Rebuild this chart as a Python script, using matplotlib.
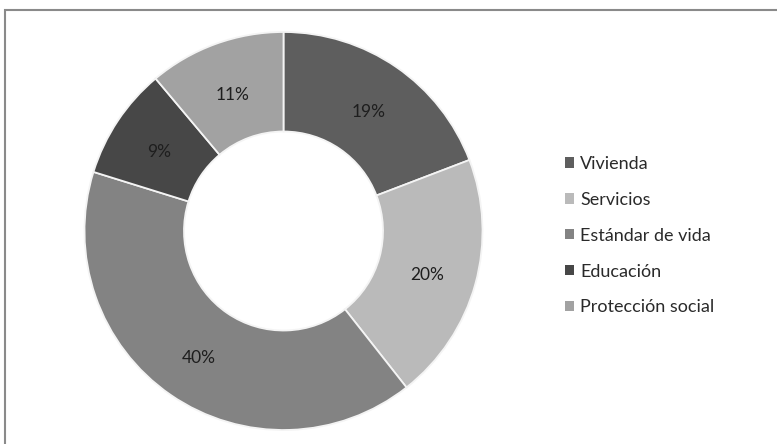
import matplotlib
matplotlib.use("Agg")
import matplotlib.pyplot as plt
from matplotlib.patches import Rectangle

plt.rcParams['font.family'] = ['Lato', 'DejaVu Sans']

categories = ["Vivienda", "Servicios", "Estándar de vida", "Educación", "Protección social"]
values = [19, 20, 40, 9, 11]
colors = ["#5e5e5e", "#bababa", "#838383", "#474747", "#a2a2a2"]

W, H = 777, 444
fig = plt.figure(figsize=(W / 100, H / 100), dpi=100)
fig.patch.set_facecolor("white")

# axes spanning the figure, one data unit per pixel
ax = fig.add_axes([0, 0, 1, 1])

cx, cy, r = 283.5, H - 231, 199
wedges, texts = ax.pie(
    values,
    labels=[f"{v}%" for v in values],
    colors=colors,
    startangle=90,
    counterclock=False,
    center=(cx, cy),
    radius=r,
    labeldistance=0.75,
    wedgeprops=dict(width=r * 0.5, edgecolor="#f4f4f4", linewidth=1.3),
    textprops=dict(fontsize=12.5, color="#1e1e1e", ha="center", va="center"),
    frame=True,
)
for t in texts:
    x, y = t.get_position()
    t.set_position((x, y - 4))

ax.set_xlim(0, W)
ax.set_ylim(0, H)
ax.set_aspect("equal")
ax.axis("off")

leg = fig.legend(
    wedges, categories,
    loc="upper left",
    bbox_to_anchor=(556 / W, 1 - 147 / H),
    frameon=False,
    fontsize=13,
    handlelength=0.5,
    handleheight=0.5,
    handletextpad=0.35,
    labelspacing=1.1,
    borderpad=0,
)
for t in leg.get_texts():
    t.set_color("#2a2a2a")
for h in leg.legend_handles:
    h.set_edgecolor("none")

# outer chart border
fig.patches.append(Rectangle((5, -10), W + 10, H, transform=None,
                             fill=False, edgecolor="#8a8a8a", linewidth=1.5,
                             figure=fig))

fig.savefig("out.png", dpi=100, facecolor="white")
